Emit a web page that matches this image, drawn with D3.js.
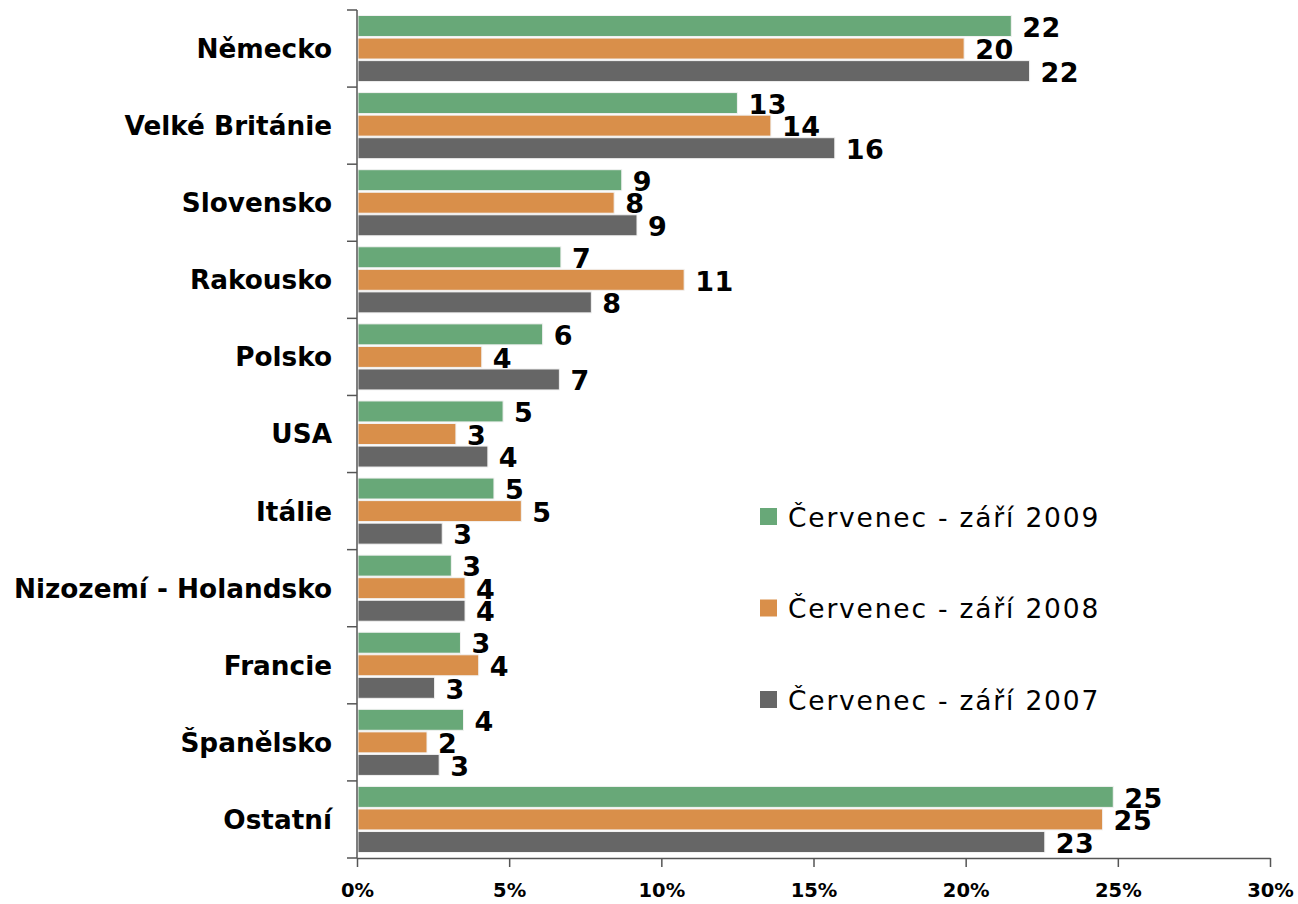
<!DOCTYPE html>
<html>
<head>
<meta charset="utf-8">
<script src="https://cdn.jsdelivr.net/npm/d3@7"></script>
<style>
  body { margin: 0; background: #fff; }
  svg text { font-family: "DejaVu Sans", Verdana, sans-serif; }
</style>
</head>
<body>
<div id="chart"></div>
<script>
const svgWidth = 1298
const svgHeight = 904

// categories top to bottom
const countries = ["Německo", "Velké Británie", "Slovensko", "Rakousko", "Polsko", "USA",
  "Itálie", "Nizozemí - Holandsko", "Francie", "Španělsko", "Ostatní"]

const seriesNames = ["Červenec - září 2009", "Červenec - září 2008", "Červenec - září 2007"]
const seriesColors = ["#68a878", "#d98f4a", "#666666"]

// shares in %
const values2009 = [21.5, 12.5, 8.7, 6.7, 6.1, 4.8, 4.5, 3.1, 3.4, 3.5, 24.85]
const values2008 = [19.95, 13.6, 8.45, 10.75, 4.1, 3.25, 5.4, 3.55, 4.0, 2.3, 24.5]
const values2007 = [22.1, 15.7, 9.2, 7.7, 6.65, 4.3, 2.8, 3.55, 2.55, 2.7, 22.6]
// labels printed next to the bars
const labels2009 = ["22", "13", "9", "7", "6", "5", "5", "3", "3", "4", "25"]
const labels2008 = ["20", "14", "8", "11", "4", "3", "5", "4", "4", "2", "25"]
const labels2007 = ["22", "16", "9", "8", "7", "4", "3", "4", "3", "3", "23"]

const xTicks = [0, 5, 10, 15, 20, 25, 30]

let margin = { top: 10, right: 28, bottom: 46, left: 357 }
let width = svgWidth - margin.left - margin.right
let height = svgHeight - margin.top - margin.bottom

let svg = d3.select("#chart")
  .append("svg")
  .attr("width", svgWidth)
  .attr("height", svgHeight)

let chartGroup = svg.append("g")
  .attr("transform", `translate(${margin.left}, ${margin.top})`)

let x = d3.scaleLinear().domain([0, 30]).range([0, width])

let y = d3.scaleBand().domain(countries).range([0, height]).padding(0)

let yInner = d3.scaleBand()
  .domain(seriesNames)
  .range([5.5, y.bandwidth() - 5.5])
  .paddingInner(0.07)
  .paddingOuter(0)

let rows = countries.map((c, i) => ({
  country: c,
  items: [
    { s: seriesNames[0], v: values2009[i], l: labels2009[i], c: seriesColors[0] },
    { s: seriesNames[1], v: values2008[i], l: labels2008[i], c: seriesColors[1] },
    { s: seriesNames[2], v: values2007[i], l: labels2007[i], c: seriesColors[2] }
  ]
}))

let groups = chartGroup.selectAll(".row")
  .data(rows)
  .enter()
  .append("g")
  .attr("class", "row")
  .attr("transform", d => `translate(0, ${y(d.country)})`)

groups.selectAll("rect")
  .data(d => d.items)
  .enter()
  .append("rect")
  .attr("x", 1)
  .attr("y", d => yInner(d.s))
  .attr("width", d => x(d.v) - 1)
  .attr("height", yInner.bandwidth())
  .attr("fill", d => d.c)
  .attr("stroke", "#f2f2f2")
  .attr("stroke-width", 1)

groups.selectAll("text.val")
  .data(d => d.items)
  .enter()
  .append("text")
  .attr("class", "val")
  .attr("x", d => x(d.v) + 11)
  .attr("y", d => yInner(d.s) + yInner.bandwidth() / 2 + 1)
  .attr("dy", "0.36em")
  .style("font-size", "27px")
  .style("font-weight", "bold")
  .style("letter-spacing", "0.5px")
  .attr("fill", "#000")
  .text(d => d.l)

// axes
let axisColor = "#555"

let bottomAxis = d3.axisBottom(x)
  .tickValues(xTicks)
  .tickFormat(d => d + "%")
  .tickSizeInner(9)
  .tickSizeOuter(0)
  .tickPadding(16)

let xAxis = chartGroup.append("g")
  .attr("transform", `translate(0, ${height})`)
  .call(bottomAxis)
xAxis.select(".domain").attr("stroke", axisColor).attr("stroke-width", 1.5)
xAxis.selectAll(".tick line").attr("stroke", axisColor).attr("stroke-width", 1.5)
xAxis.selectAll(".tick text")
  .style("font-size", "19.5px")
  .style("font-weight", "bold")
  .style("font-family", "DejaVu Sans, Verdana, sans-serif")
  .attr("fill", "#000")

// y axis: ticks on category boundaries
let yAxis = chartGroup.append("g")
yAxis.append("line")
  .attr("x1", 0).attr("x2", 0)
  .attr("y1", 0).attr("y2", height)
  .attr("stroke", axisColor).attr("stroke-width", 1.5)

let boundaries = countries.map(c => y(c)).concat([height])
yAxis.selectAll("line.tick")
  .data(boundaries)
  .enter()
  .append("line")
  .attr("class", "tick")
  .attr("x1", -10).attr("x2", 0)
  .attr("y1", d => d).attr("y2", d => d)
  .attr("stroke", axisColor).attr("stroke-width", 1.5)

yAxis.selectAll("text")
  .data(countries)
  .enter()
  .append("text")
  .attr("x", -25)
  .attr("y", d => y(d) + y.bandwidth() / 2)
  .attr("dy", "0.36em")
  .attr("text-anchor", "end")
  .style("font-size", "26.3px")
  .style("font-weight", "bold")
  .attr("fill", "#000")
  .text(d => d)

// legend
let legend = svg.append("g")
  .attr("transform", "translate(760, 517)")

let legendItems = legend.selectAll("g")
  .data(seriesNames)
  .enter()
  .append("g")
  .attr("transform", (d, i) => `translate(0, ${i * 91.5})`)

legendItems.append("rect")
  .attr("x", 0)
  .attr("y", -9)
  .attr("width", 17)
  .attr("height", 17)
  .attr("fill", (d, i) => seriesColors[i])

legendItems.append("text")
  .attr("x", 28)
  .attr("y", 0)
  .attr("dy", "0.36em")
  .style("font-size", "26.5px")
  .style("letter-spacing", "1.8px")
  .attr("fill", "#000")
  .text(d => d)
</script>
</body>
</html>
